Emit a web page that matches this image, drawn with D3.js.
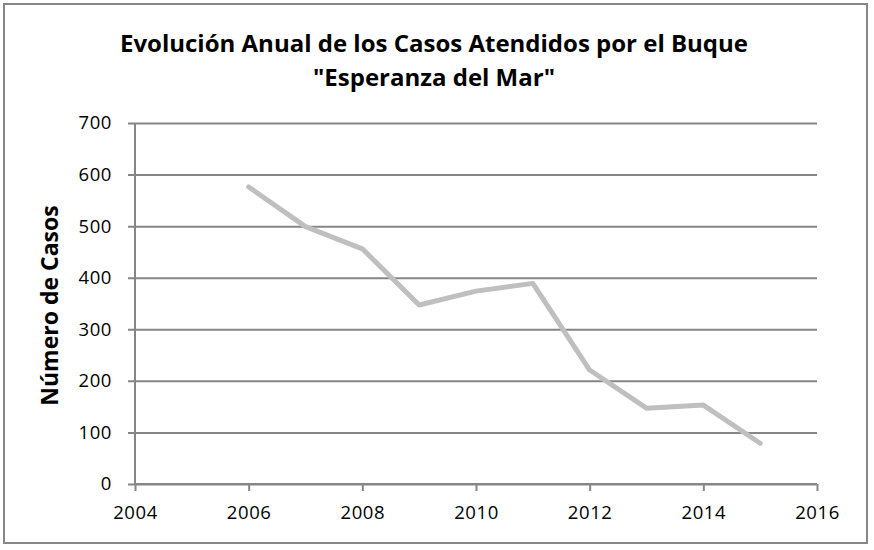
<!DOCTYPE html>
<html>
<head>
<meta charset="utf-8">
<script src="https://cdn.jsdelivr.net/npm/d3@7"></script>
<style>
  body { margin: 0; background: #fff; }
  text { font-family: "Open Sans", "Liberation Sans", sans-serif; }
</style>
</head>
<body>
<svg width="874" height="550"></svg>
<script>
// Data
var years = [2006, 2007, 2008, 2009, 2010, 2011, 2012, 2013, 2014, 2015];
var casos = [576, 499, 456, 347, 374, 389, 221, 147, 153, 79];
var xTicks = [2004, 2006, 2008, 2010, 2012, 2014, 2016];
var yTicks = [0, 100, 200, 300, 400, 500, 600, 700];
var titleLines = ["Evolución Anual de los Casos Atendidos por el Buque", "\"Esperanza del Mar\""];

var svg = d3.select("svg"),
    width = +svg.attr("width"),
    height = +svg.attr("height");

var margin = {top: 123, right: 57, bottom: 66, left: 135};

// Chart border
svg.append("rect")
    .attr("x", 4).attr("y", 4)
    .attr("width", 863).attr("height", 539)
    .attr("fill", "#fff")
    .attr("stroke", "#878787")
    .attr("stroke-width", 2);

var x = d3.scaleLinear()
    .domain([2004, 2016])
    .range([margin.left, width - margin.right]);

var y = d3.scaleLinear()
    .domain([0, 700])
    .range([height - margin.bottom, margin.top]);

// Y axis with gridlines
var yAxis = svg.append("g")
    .attr("transform", "translate(" + margin.left + ",0)")
    .call(d3.axisLeft(y)
        .tickValues(yTicks)
        .tickSize(-(x.range()[1] - x.range()[0]))
        .tickPadding(23)
        .tickFormat(d3.format("d")));

yAxis.select(".domain").remove();
yAxis.selectAll(".tick line")
    .attr("x1", -7)
    .attr("stroke", "#868686")
    .attr("stroke-width", 2);
yAxis.selectAll(".tick text")
    .attr("font-size", 18.5)
    .attr("letter-spacing", 0.6)
    .attr("fill", "#000");

// Vertical axis line
svg.append("line")
    .attr("x1", margin.left).attr("x2", margin.left)
    .attr("y1", y(700)).attr("y2", y(0))
    .attr("stroke", "#868686")
    .attr("stroke-width", 2);

// X axis
var xAxis = svg.append("g")
    .attr("transform", "translate(0," + y(0) + ")")
    .call(d3.axisBottom(x)
        .tickValues(xTicks)
        .tickSize(7)
        .tickPadding(15)
        .tickFormat(d3.format("d")));

xAxis.select(".domain")
    .attr("stroke", "#868686")
    .attr("stroke-width", 2)
    .attr("d", "M" + x.range()[0] + ",0H" + x.range()[1]);
xAxis.selectAll(".tick line")
    .attr("stroke", "#868686")
    .attr("stroke-width", 2);
xAxis.selectAll(".tick text")
    .attr("font-size", 18.5)
    .attr("letter-spacing", 0.6)
    .attr("fill", "#000");

// The line
var line = d3.line()
    .x(function(d, i) { return x(years[i]); })
    .y(function(d) { return y(d); });

svg.append("path")
    .datum(casos)
    .attr("d", line)
    .attr("fill", "none")
    .attr("stroke", "#bfbfbf")
    .attr("stroke-width", 5)
    .attr("stroke-linejoin", "round")
    .attr("stroke-linecap", "round");

// Title
svg.append("g").selectAll("text")
    .data(titleLines)
    .enter().append("text")
    .attr("x", 434)
    .attr("y", function(d, i) { return 52 + i * 34; })
    .attr("text-anchor", "middle")
    .attr("font-size", 24)
    .attr("font-weight", "bold")
    .attr("fill", "#000")
    .text(function(d) { return d; });

// Y label
svg.append("text")
    .attr("transform", "translate(58," + (y(350) + 2) + ") rotate(-90)")
    .attr("text-anchor", "middle")
    .attr("font-size", 23)
    .attr("font-weight", "bold")
    .attr("fill", "#000")
    .text("Número de Casos");
</script>
</body>
</html>
